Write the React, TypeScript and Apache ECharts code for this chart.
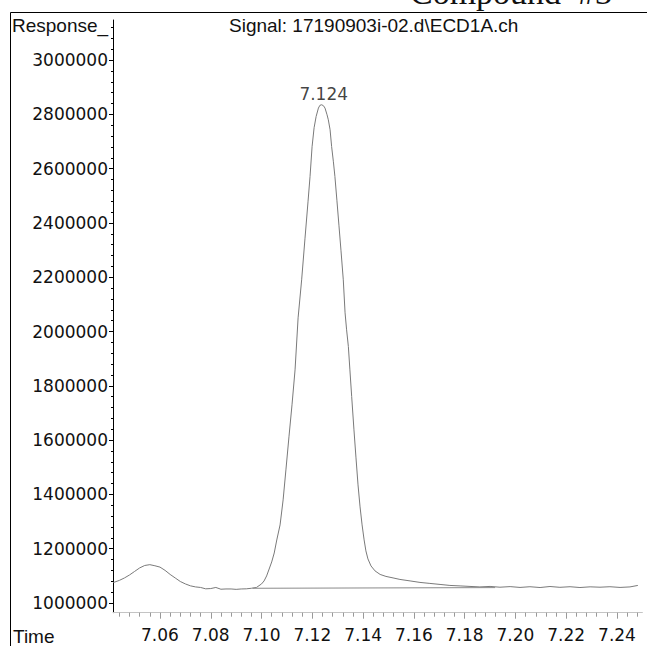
import React, { useEffect, useRef } from "react";
import * as echarts from "echarts";

const times = [
  7.0416, 7.044, 7.046, 7.048, 7.05, 7.052, 7.054, 7.056, 7.058, 7.06, 7.062, 7.064, 7.066, 7.068, 7.07,
  7.072, 7.074, 7.076, 7.078, 7.08, 7.082, 7.084, 7.086, 7.088, 7.09, 7.092, 7.094, 7.096, 7.098, 7.1,
  7.101, 7.102, 7.103, 7.104, 7.105, 7.106, 7.1073, 7.1085, 7.1096, 7.1108, 7.112, 7.1132, 7.1144, 7.1158,
  7.1171, 7.1183, 7.1191, 7.1199, 7.1207, 7.1215, 7.1224, 7.123, 7.1237, 7.1244, 7.125, 7.1258, 7.1263,
  7.127, 7.1276, 7.1283, 7.1289, 7.1297, 7.1305, 7.1313, 7.1322, 7.1329, 7.1335, 7.1342, 7.1348, 7.1355,
  7.1364, 7.1372, 7.138, 7.1388, 7.1396, 7.1404, 7.1411, 7.1419, 7.1431, 7.1447, 7.1467, 7.149, 7.1518,
  7.1545, 7.1585, 7.1624, 7.1663, 7.1703, 7.1742, 7.1782, 7.1821, 7.186, 7.19, 7.1939, 7.1979, 7.2018,
  7.2057, 7.2097, 7.2136, 7.2175, 7.2215, 7.2254, 7.2294, 7.2333, 7.2372, 7.2412, 7.2451, 7.2482,
];

const signal = [
  1075000, 1083000, 1092000, 1103000, 1116000, 1129000, 1138000, 1141000, 1137000, 1132000, 1120000,
  1105000, 1092000, 1079000, 1070000, 1063000, 1059000, 1057000, 1052000, 1053000, 1057000, 1050500,
  1051500, 1051500, 1050000, 1051500, 1052000, 1054000, 1057000, 1070000, 1081000, 1099500, 1125000,
  1151000, 1184000, 1232000, 1287500, 1379700, 1490200, 1612000, 1730000, 1858800, 2050500, 2190600,
  2341700, 2478000, 2571300, 2681000, 2751000, 2792500, 2823500, 2833700, 2835600, 2832000, 2823500,
  2798800, 2780300, 2743500, 2681900, 2625500, 2571300, 2481800, 2389600, 2297500, 2190600, 2068900,
  2006300, 1944700, 1858800, 1760400, 1637700, 1534500, 1435000, 1353900, 1287500, 1232200, 1191700,
  1162200, 1136400, 1118000, 1105000, 1097700, 1092200, 1086600, 1081100, 1075600, 1071900, 1068200,
  1064500, 1062700, 1060800, 1059000, 1060800, 1057900, 1060100, 1057100, 1059700, 1056800, 1060500,
  1057500, 1059700, 1056800, 1059300, 1057900, 1059700, 1057100, 1059000, 1064500,
];

const peakTime = 7.1237;
const peakValue = 2835600;
const peakLabel = "7.124";

const baselineTimes = [7.0965, 7.192];
const baselineValues = [1054000, 1056500];

const xMajorTicks = [7.06, 7.08, 7.1, 7.12, 7.14, 7.16, 7.18, 7.2, 7.22, 7.24];
const xMinorTicks = [
  7.044, 7.048, 7.052, 7.056, 7.064, 7.068, 7.072, 7.076, 7.084, 7.088, 7.092, 7.096, 7.104, 7.108,
  7.112, 7.116, 7.124, 7.128, 7.132, 7.136, 7.144, 7.148, 7.152, 7.156, 7.164, 7.168, 7.172, 7.176,
  7.184, 7.188, 7.192, 7.196, 7.204, 7.208, 7.212, 7.216, 7.224, 7.228, 7.232, 7.236, 7.244, 7.248,
];
const yMajorTicks = [
  1000000, 1200000, 1400000, 1600000, 1800000, 2000000, 2200000, 2400000, 2600000, 2800000, 3000000,
];
const yMinorTicks = [
  1040000, 1080000, 1120000, 1160000, 1240000, 1280000, 1320000, 1360000, 1440000, 1480000, 1520000,
  1560000, 1640000, 1680000, 1720000, 1760000, 1840000, 1880000, 1920000, 1960000, 2040000, 2080000,
  2120000, 2160000, 2240000, 2280000, 2320000, 2360000, 2440000, 2480000, 2520000, 2560000, 2640000,
  2680000, 2720000, 2760000, 2840000, 2880000, 2920000, 2960000, 3040000, 3080000, 3120000,
];

const titleText = "Signal: 17190903i-02.d\\ECD1A.ch";
const yName = "Response_";
const xName = "Time";
const headerText = "Compound  #3";

const X_MIN = 7.0415;
const X_MAX = 7.25;
const Y_MIN = 964000;
const Y_MAX = 3148000;

export default function App() {
  const ref = useRef<HTMLDivElement>(null);

  useEffect(() => {
    if (!ref.current) return;
    const chart = echarts.init(ref.current, null, { renderer: "svg" });
    const axisFont = { fontFamily: "DejaVu Sans", fontSize: 17, color: "#111" };
    const option: any = {
      animation: false,
      backgroundColor: "#fff",
      grid: { left: 113, right: 4.6, top: 20, bottom: 33.3, containLabel: false },
      xAxis: [
        {
          type: "value",
          min: X_MIN,
          max: X_MAX,
          position: "bottom",
          axisLine: { show: true, lineStyle: { color: "#c4c4c4", width: 1 } },
          axisTick: { show: true, customValues: xMajorTicks, length: 6, lineStyle: { color: "#999" } },
          axisLabel: {
            show: true,
            customValues: xMajorTicks,
            margin: 14,
            formatter: (v: number) => v.toFixed(2),
            ...axisFont,
          },
          splitLine: { show: false },
        },
        {
          type: "value",
          min: X_MIN,
          max: X_MAX,
          position: "bottom",
          offset: 0,
          axisLine: { show: false },
          axisTick: { show: true, customValues: xMinorTicks, length: 4, lineStyle: { color: "#999" } },
          axisLabel: { show: false },
          splitLine: { show: false },
        },
      ],
      yAxis: [
        {
          type: "value",
          min: Y_MIN,
          max: Y_MAX,
          position: "left",
          axisLine: { show: true, lineStyle: { color: "#000", width: 1 } },
          axisTick: { show: true, customValues: yMajorTicks, length: 4, lineStyle: { color: "#000" } },
          axisLabel: {
            show: true,
            customValues: yMajorTicks,
            margin: 5,
            formatter: (v: number) => String(v),
            ...axisFont,
          },
          splitLine: { show: false },
        },
        {
          type: "value",
          min: Y_MIN,
          max: Y_MAX,
          position: "left",
          offset: 0,
          axisLine: { show: false },
          axisTick: { show: true, customValues: yMinorTicks, length: 2, lineStyle: { color: "#000" } },
          axisLabel: { show: false },
          splitLine: { show: false },
        },
      ],
      series: [
        {
          type: "line",
          xAxisIndex: 0,
          yAxisIndex: 0,
          data: times.map((t, i) => [t, signal[i]]),
          symbol: "none",
          lineStyle: { color: "#7a7a7a", width: 1 },
          silent: true,
        },
        {
          type: "line",
          xAxisIndex: 0,
          yAxisIndex: 0,
          data: baselineTimes.map((t, i) => [t, baselineValues[i]]),
          symbol: "none",
          lineStyle: { color: "#8a8a8a", width: 1 },
          silent: true,
        },
        {
          type: "scatter",
          xAxisIndex: 0,
          yAxisIndex: 0,
          data: [[peakTime, peakValue]],
          symbolSize: 1,
          itemStyle: { color: "rgba(0,0,0,0)" },
          label: {
            show: true,
            position: "top",
            distance: 2,
            offset: [2, 0],
            formatter: () => peakLabel,
            fontFamily: "DejaVu Sans",
            fontSize: 17,
            color: "#111",
          },
          silent: true,
        },
      ],
      graphic: [
        { type: "line", shape: { x1: 10.5, y1: 12.5, x2: 647, y2: 12.5 }, style: { stroke: "#000", lineWidth: 1 } },
        { type: "line", shape: { x1: 10.5, y1: 12.5, x2: 10.5, y2: 646 }, style: { stroke: "#000", lineWidth: 1 } },
        {
          type: "text",
          x: 410,
          y: 9,
          style: {
            text: headerText,
            fill: "#111",
            font: '34px "Liberation Serif"',
            align: "left",
            verticalAlign: "bottom",
          },
        },
        {
          type: "text",
          x: 12,
          y: 25,
          style: { text: yName, fill: "#111", font: '19px "Liberation Sans"', align: "left", verticalAlign: "middle" },
        },
        {
          type: "text",
          x: 229,
          y: 25,
          style: { text: titleText, fill: "#111", font: '19px "Liberation Sans"', align: "left", verticalAlign: "middle" },
        },
        {
          type: "text",
          x: 13,
          y: 636,
          style: { text: xName, fill: "#111", font: '19px "Liberation Sans"', align: "left", verticalAlign: "middle" },
        },
      ],
    };
    chart.setOption(option);
    return () => chart.dispose();
  }, []);

  return (
    <div
      ref={ref}
      style={{ position: "fixed", left: 0, top: 0, width: 647, height: 646, background: "#fff" }}
    />
  );
}
